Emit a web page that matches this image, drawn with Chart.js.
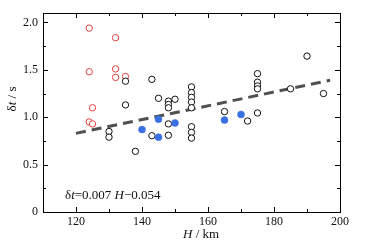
<!DOCTYPE html>
<html>
<head>
<meta charset="utf-8">
<script src="https://cdn.jsdelivr.net/npm/chart.js@4/dist/chart.umd.min.js"></script>
<style>
  html, body { margin: 0; padding: 0; background: #fff; }
  #wrap { width: 368px; height: 243px; }
</style>
</head>
<body>
<div id="wrap"><canvas id="chart"></canvas></div>
<script>
// data
const redH = [124, 132, 124, 132, 132, 135, 125, 124, 125];
const redDt = [1.94, 1.84, 1.48, 1.51, 1.42, 1.43, 1.10, 0.95, 0.93];

const blackH = [135, 143, 135, 145, 148, 148, 148, 150,
    155, 155, 155, 155, 155, 155, 155, 155,
    148, 148, 143, 130, 130, 138,
    190, 175, 175, 175, 175, 185, 195, 165, 175, 172];
const blackDt = [1.38, 1.40, 1.13, 1.20, 1.17, 1.135, 1.10, 1.19,
    1.32, 1.26, 1.21, 1.16, 1.10, 0.90, 0.84, 0.78,
    0.93, 0.81, 0.805, 0.85, 0.79, 0.64,
    1.645, 1.46, 1.37, 1.33, 1.30, 1.30, 1.25, 1.06, 1.045, 0.96];

const blueH = [140, 145, 145, 150, 165, 170];
const blueDt = [0.87, 0.98, 0.79, 0.94, 0.97, 1.03];

// fitted line dt = 0.007H - 0.054 (as drawn)
const fitH = [120, 197];
const fitDt = [0.83, 1.39];

const xTicks = [120, 140, 160, 180, 200];
const xMinor = [110, 130, 150, 170, 190];
const yTicks = [0, 0.5, 1.0, 1.5, 2.0];
const yMinor = [0.25, 0.75, 1.25, 1.75];

const toPts = (xs, ys) => xs.map((x, i) => ({ x: x, y: ys[i] }));
const SERIF = "'Liberation Serif', 'DejaVu Serif', serif";

// draw text made of upright / italic pieces
function drawRich(ctx, parts, x, y, size) {
    let cx = x;
    parts.forEach(p => {
        ctx.font = (p[1] ? "italic " : "") + size + "px " + SERIF;
        ctx.fillText(p[0], cx, y);
        cx += ctx.measureText(p[0]).width;
    });
    return cx - x;
}
function richWidth(ctx, parts, size) {
    let w = 0;
    parts.forEach(p => {
        ctx.font = (p[1] ? "italic " : "") + size + "px " + SERIF;
        w += ctx.measureText(p[0]).width;
    });
    return w;
}

const framePlugin = {
    id: "frame",
    afterDraw(chart) {
        const ctx = chart.ctx;
        const a = chart.chartArea;
        const xs = chart.scales.x, ys = chart.scales.y;
        ctx.save();
        ctx.strokeStyle = "#000";
        ctx.lineWidth = 1;
        ctx.strokeRect(a.left + 0.5, a.top + 0.5, a.right - a.left, a.bottom - a.top);

        // inward ticks on all four sides
        ctx.beginPath();
        const tx = (v, len) => {
            const p = Math.round(xs.getPixelForValue(v)) + 0.5;
            ctx.moveTo(p, a.bottom); ctx.lineTo(p, a.bottom - len);
            ctx.moveTo(p, a.top); ctx.lineTo(p, a.top + len);
        };
        const ty = (v, len) => {
            const p = Math.round(ys.getPixelForValue(v)) + 0.5;
            ctx.moveTo(a.left, p); ctx.lineTo(a.left + len, p);
            ctx.moveTo(a.right, p); ctx.lineTo(a.right - len, p);
        };
        xTicks.forEach(v => tx(v, 5));
        xMinor.forEach(v => tx(v, 3));
        yTicks.forEach(v => ty(v, 5));
        yMinor.forEach(v => ty(v, 3));
        ctx.stroke();

        ctx.fillStyle = "#111";
        ctx.textBaseline = "alphabetic";
        ctx.textAlign = "left";

        // x title
        drawRich(ctx, [["H", true], [" / km", false]], 183, 238, 13);

        // regression formula
        drawRich(ctx, [["\u03b4", false], ["t", true], ["=0.007 ", false], ["H", true], ["\u22120.054", false]], 65, 199, 13);

        // y title, rotated
        const yParts = [["\u03b4", false], ["t", true], [" / s", false]];
        const w = richWidth(ctx, yParts, 13);
        ctx.translate(16, 99);
        ctx.rotate(-Math.PI / 2);
        drawRich(ctx, yParts, -w / 2, 0, 13);
        ctx.restore();
    }
};

new Chart(document.getElementById("chart"), {
    type: "scatter",
    data: {
        datasets: [
            {
                data: toPts(fitH, fitDt),
                showLine: true,
                borderColor: "#505050",
                borderWidth: 3,
                borderDash: [10, 6],
                pointRadius: 0,
                order: 5
            },
            {
                data: toPts(blackH, blackDt),
                pointRadius: 3.2,
                borderWidth: 1,
                borderColor: "#111",
                backgroundColor: "#fff",
                order: 2
            },
            {
                data: toPts(redH, redDt),
                pointRadius: 3.2,
                borderWidth: 1,
                borderColor: "#e0403f",
                backgroundColor: "#fff",
                order: 2
            },
            {
                data: toPts(blueH, blueDt),
                pointRadius: 3.5,
                borderWidth: 0.5,
                borderColor: "#3a6fe2",
                backgroundColor: "#3a6fe2",
                order: 1
            }
        ]
    },
    options: {
        responsive: true,
        maintainAspectRatio: false,
        animation: false,
        layout: { padding: { left: 0, top: 13, right: 28, bottom: 0 } },
        plugins: {
            legend: { display: false },
            tooltip: { enabled: false }
        },
        scales: {
            x: {
                type: "linear",
                min: 110,
                max: 200,
                grid: { display: false, drawTicks: false },
                border: { display: false },
                afterBuildTicks: s => { s.ticks = xTicks.map(v => ({ value: v })); },
                afterFit: s => { s.height = 31; },
                ticks: {
                    padding: 3,
                    color: "#111",
                    font: { family: SERIF, size: 12 },
                    callback: v => String(v)
                }
            },
            y: {
                min: 0,
                max: 2.1,
                grid: { display: false, drawTicks: false },
                border: { display: false },
                afterBuildTicks: s => { s.ticks = yTicks.map(v => ({ value: v })); },
                afterFit: s => { s.width = 43; },
                ticks: {
                    padding: 5,
                    color: "#111",
                    font: { family: SERIF, size: 12 },
                    callback: v => v === 0 ? "0" : v.toFixed(1)
                }
            }
        }
    },
    plugins: [framePlugin]
});
</script>
</body>
</html>
